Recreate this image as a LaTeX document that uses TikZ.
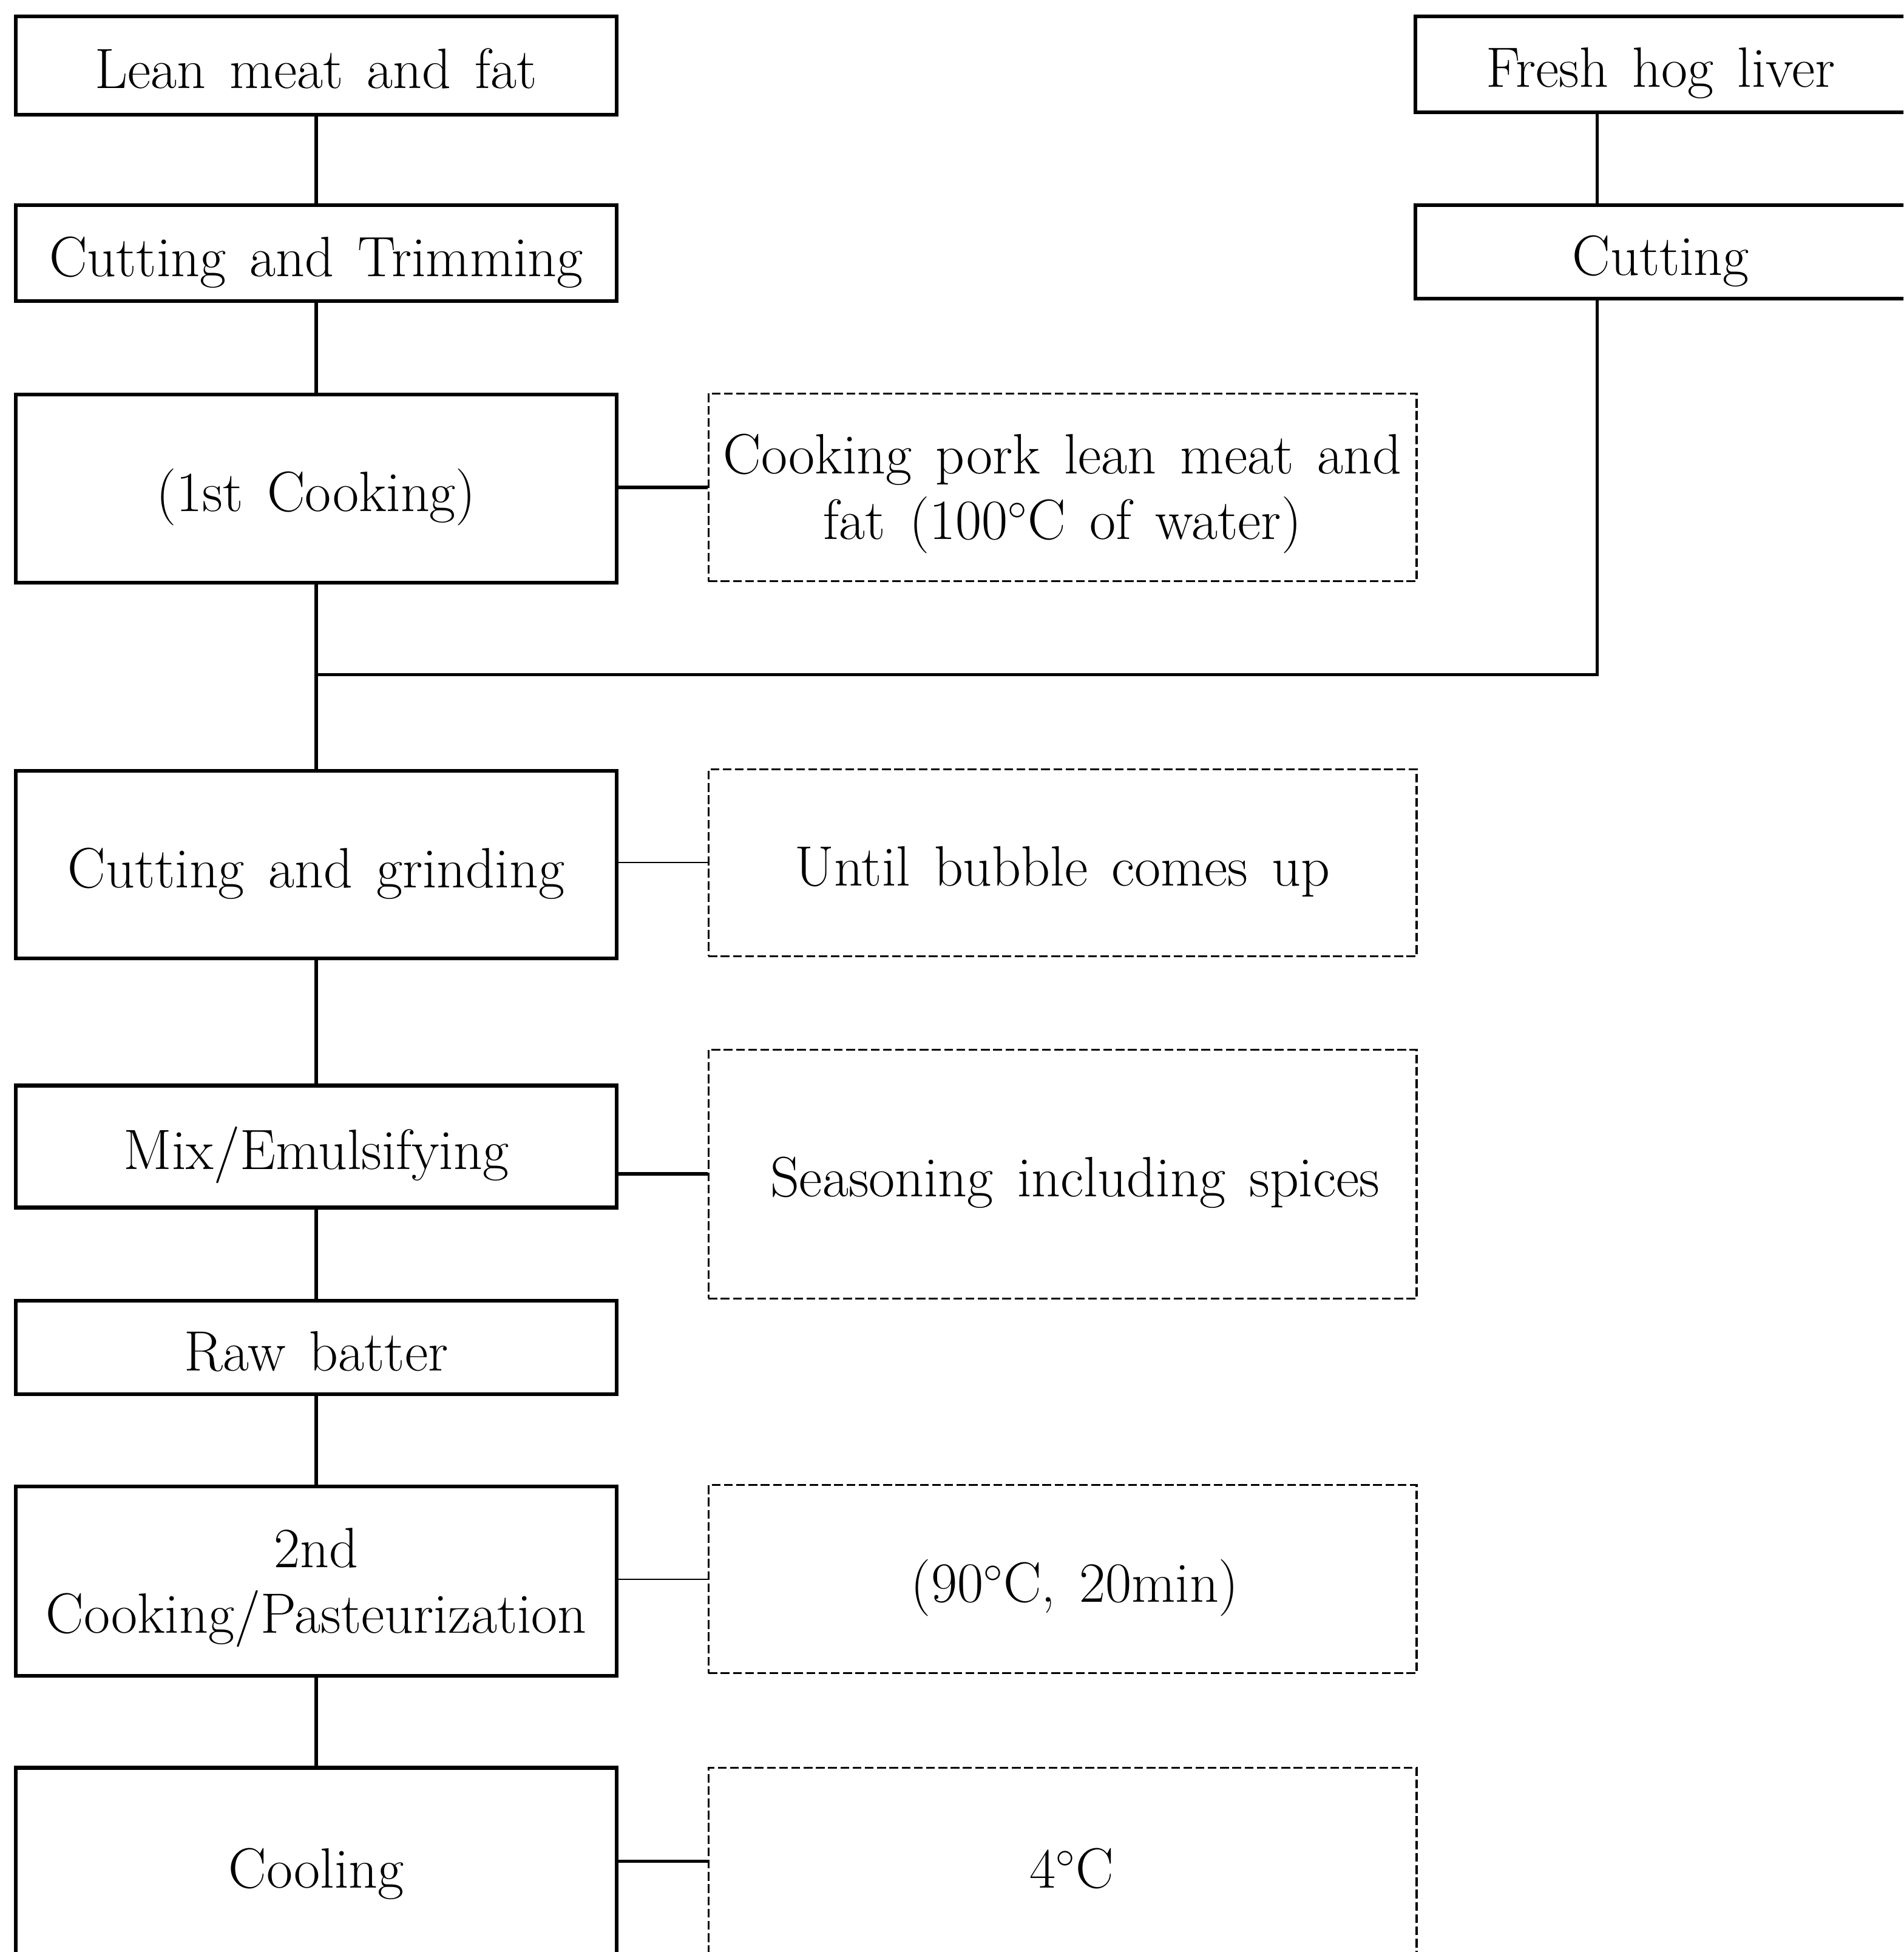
\documentclass[tikz,border=0pt]{standalone}
\usepackage{tikz}
\usetikzlibrary{positioning}
\newcommand\flowfont{\fontsize{26}{30}\selectfont\spaceskip=0.42em plus 0.1em minus 0.05em\relax}
\newcommand\twoline[2]{\raisebox{1.5pt}{\begin{tabular}{@{}c@{}}#1\\#2\end{tabular}}}

\begin{document}
\begin{tikzpicture}[x=0.02cm,y=-0.02cm]
        \tikzset{procbox/.style = {draw, line width=1.7pt, minimum width=9.66cm, inner sep=0pt, text height=24pt, text depth=3pt, font=\flowfont}}
        \tikzset{liverbox/.style = {procbox, minimum width=7.88cm}}
        \tikzset{notebox/.style = {draw, line width=0.85pt, dash pattern=on 4pt off 1.6pt, minimum width=11.38cm, inner sep=0pt, text height=24pt, text depth=3pt, font=\flowfont}}
        \tikzset{link/.style = {line width=1.5pt}}
        \tikzset{thinlink/.style = {line width=0.6pt}}

        \useasboundingbox (0,0) rectangle (1529,1568);
        \clip (0,0) rectangle (1529,1568);

        % main line
        \node[procbox, minimum height=1.58cm] (lean) at (254,52.5) {Lean meat and fat};
        \node[procbox, minimum height=1.54cm] (trim) at (254,203.5) {Cutting and Trimming};
        \node[procbox, minimum height=3.02cm] (cook1) at (254,392.5) {(1st Cooking)};
        \node[procbox, minimum height=3.02cm] (grind) at (254,694.5) {Cutting and grinding};
        \node[procbox, minimum height=1.96cm] (mix) at (254,921) {Mix/Emulsifying};
        \node[procbox, minimum height=1.5cm] (batter) at (254,1082.5) {Raw batter};
        \node[procbox, minimum height=3.04cm] (past) at (254,1270) {\twoline{2nd}{Cooking/Pasteurization}};
        \node[procbox, minimum height=3.12cm] (cool) at (254,1498) {Cooling};

        % liver line
        \node[liverbox, minimum height=1.54cm] (liver) at (1334,51.5) {Fresh hog liver};
        \node[liverbox, minimum height=1.5cm] (cut) at (1334,202.5) {Cutting};

        % conditions
        \node[notebox, minimum height=3.02cm] (water) at (853.5,391.5) {\twoline{Cooking pork lean meat and}{fat (100$^{\circ}$C of water)}};
        \node[notebox, minimum height=3cm] (bubble) at (853.5,693) {Until bubble comes up};
        \node[notebox, minimum height=4cm] (spice) at (853.5,943) {\hspace{0.4cm}Seasoning including spices};
        \node[notebox, minimum height=3.02cm] (heat) at (853.5,1268.5) {\hspace{0.4cm}(90$^{\circ}$C, 20min)};
        \node[notebox, minimum height=3.12cm] (chill) at (853.5,1498) {\hspace{0.3cm}4$^{\circ}$C};

        % joins
        \coordinate (turn) at (1283,542);
        \coordinate (join) at (254,542);

        % steps
        \draw[link] (lean) -- (trim);
        \draw[link] (trim) -- (cook1);
        \draw[link] (cook1) -- (grind);
        \draw[link] (grind) -- (mix);
        \draw[link] (mix) -- (batter);
        \draw[link] (batter) -- (past);
        \draw[link] (past) -- (cool);
        \draw[link] (liver.south -| turn) -- (cut.north -| turn);
        \draw[link] (cut.south -| turn) -- (turn) -- (join);

        % side notes
        \draw[link] (water.west -| cook1.east) -- (water.west);
        \draw[thinlink] (bubble.west -| grind.east) -- (bubble.west);
        \draw[link] (spice.west -| mix.east) -- (spice.west);
        \draw[thinlink] (heat.west -| past.east) -- (heat.west);
        \draw[link] ([yshift=0.06cm]chill.west -| cool.east) -- ([yshift=0.06cm]chill.west);

\end{tikzpicture}
\end{document}
